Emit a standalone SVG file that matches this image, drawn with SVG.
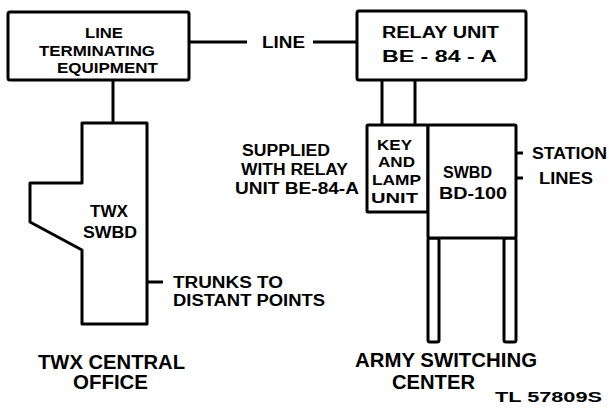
<svg xmlns="http://www.w3.org/2000/svg" width="609" height="411" viewBox="0 0 609 411">
<style>
.s{fill:#fff;stroke:#000;stroke-width:3;stroke-linejoin:round}
.c{fill:none;stroke:#000;stroke-width:3}
text{font-family:"Liberation Sans",Arial,sans-serif;font-weight:bold;fill:#000}
.m{font-size:16px}
.n{font-size:15px}
.b{font-size:20px}
.t{font-size:14px}
</style>
<rect width="609" height="411" fill="#fff"/>
<g id="connectors">
<line class="c" x1="189" y1="42" x2="247" y2="42"/>
<line class="c" x1="313" y1="42" x2="357" y2="42"/>
<line class="c" x1="113" y1="80" x2="113" y2="123"/>
<line class="c" x1="382" y1="80" x2="382" y2="125"/>
<line class="c" x1="415" y1="80" x2="415" y2="125"/>
<line class="c" x1="147" y1="282" x2="163" y2="282"/>
<line class="c" x1="516" y1="153" x2="523" y2="153"/>
<line class="c" x1="516" y1="178" x2="523" y2="178"/>
<text class="m" x="262" y="48" textLength="43" lengthAdjust="spacingAndGlyphs">LINE</text>
</g>
<g id="lte">
<rect class="s" x="8" y="12" width="181" height="68" rx="2"/>
<text class="n" x="85" y="38" textLength="38" lengthAdjust="spacingAndGlyphs">LINE</text>
<text class="n" x="39" y="56" textLength="116" lengthAdjust="spacingAndGlyphs">TERMINATING</text>
<text class="n" x="57" y="73" textLength="101" lengthAdjust="spacingAndGlyphs">EQUIPMENT</text>
</g>
<g id="relay">
<rect class="s" x="357" y="11" width="169" height="69" rx="2"/>
<text class="m" x="382" y="38" textLength="117" lengthAdjust="spacingAndGlyphs">RELAY UNIT</text>
<text class="m" x="382" y="62" textLength="115" lengthAdjust="spacingAndGlyphs">BE - 84 - A</text>
</g>
<g id="twx">
<path class="s" d="M82,123 H147 V324 H82 V250 L30,222 V183 H82 Z"/>
<text class="m" x="90" y="217" textLength="38" lengthAdjust="spacingAndGlyphs">TWX</text>
<text class="m" x="83" y="238" textLength="54" lengthAdjust="spacingAndGlyphs">SWBD</text>
</g>
<g id="keylamp">
<rect class="s" x="367" y="125" width="61" height="87" rx="1"/>
<text class="n" x="377" y="150" textLength="35" lengthAdjust="spacingAndGlyphs">KEY</text>
<text class="n" x="378" y="167" textLength="37" lengthAdjust="spacingAndGlyphs">AND</text>
<text class="n" x="372" y="185" textLength="49" lengthAdjust="spacingAndGlyphs">LAMP</text>
<text class="n" x="371" y="203" textLength="47" lengthAdjust="spacingAndGlyphs">UNIT</text>
</g>
<g id="bd100">
<rect class="s" x="504" y="238" width="12" height="104" rx="2"/>
<rect class="s" x="428" y="238" width="11" height="104" rx="2"/>
<rect class="s" x="428" y="125" width="88" height="113" rx="1"/>
<text class="m" x="443" y="178" textLength="49" lengthAdjust="spacingAndGlyphs">SWBD</text>
<text class="m" x="439" y="199" textLength="68" lengthAdjust="spacingAndGlyphs">BD-100</text>
</g>
<g id="labels">
<text class="m" x="242" y="156" textLength="88" lengthAdjust="spacingAndGlyphs">SUPPLIED</text>
<text class="m" x="241" y="175" textLength="107" lengthAdjust="spacingAndGlyphs">WITH RELAY</text>
<text class="m" x="235" y="194" textLength="124" lengthAdjust="spacingAndGlyphs">UNIT BE-84-A</text>
<text class="m" x="173" y="288" textLength="110" lengthAdjust="spacingAndGlyphs">TRUNKS TO</text>
<text class="m" x="173" y="306" textLength="152" lengthAdjust="spacingAndGlyphs">DISTANT POINTS</text>
<text class="m" x="532" y="159" textLength="75" lengthAdjust="spacingAndGlyphs">STATION</text>
<text class="m" x="539" y="184" textLength="54" lengthAdjust="spacingAndGlyphs">LINES</text>
<text class="b" x="38" y="369" textLength="147" lengthAdjust="spacingAndGlyphs">TWX CENTRAL</text>
<text class="b" x="73" y="389" textLength="75" lengthAdjust="spacingAndGlyphs">OFFICE</text>
<text class="b" x="355" y="367" textLength="182" lengthAdjust="spacingAndGlyphs">ARMY SWITCHING</text>
<text class="b" x="392" y="389" textLength="83" lengthAdjust="spacingAndGlyphs">CENTER</text>
<text class="t" x="495" y="402" textLength="107" lengthAdjust="spacingAndGlyphs">TL 57809S</text>
</g>
</svg>
